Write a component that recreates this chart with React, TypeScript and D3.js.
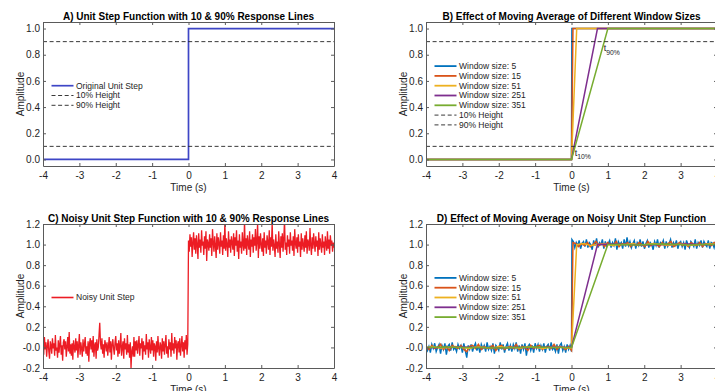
import { useEffect, useRef } from "react";
import * as d3 from "d3";

// axis ticks
const xTicks = [-4, -3, -2, -1, 0, 1, 2, 3, 4];
const xTickLabels = ["-4", "-3", "-2", "-1", "0", "1", "2", "3", "4"];
const yTicksTop = [0, 0.2, 0.4, 0.6, 0.8, 1.0];
const yTickLabelsTop = ["0.0", "0.2", "0.4", "0.6", "0.8", "1.0"];
const yTicksBottom = [-0.2, 0, 0.2, 0.4, 0.6, 0.8, 1.0, 1.2];
const yTickLabelsBottom = ["-0.2", "-0.0", "0.2", "0.4", "0.6", "0.8", "1.0", "1.2"];

// A) unit step
const stepTimes = [-4, 0, 0, 4];
const stepValues = [0, 0, 1, 1];
const responseLevels = [0.1, 0.9];
const responseLabels = ["10% Height", "90% Height"];

// B) moving averages of the clean step: flat, linear ramp from 0 to rampEnd, flat
const windowSizes = [5, 15, 51, 251, 351];
const rampEnds = [0.011, 0.04, 0.143, 0.714, 1.0];
const t10 = 0.1;
const t90 = 0.9;

// C) noisy step, samples every 0.02 s (low: -4 .. -0.02, high: 0 .. 4)
const noisyLow = [
  0.03, -0.07, 0.10, -0.02, 0.05, -0.09, 0.01, 0.08, -0.04, -0.11, 0.06, 0.02, -0.06, 0.09, -0.01, 0.04, -0.08, 0.12, -0.03, 0.00,
  -0.10, 0.07, -0.05, 0.03, 0.11, -0.07, 0.02, -0.13, 0.05, 0.08, -0.02, 0.06, -0.09, 0.01, 0.10, -0.04, 0.15, -0.06, 0.03, -0.08,
  0.04, -0.12, 0.07, 0.00, -0.05, 0.09, -0.03, 0.06, -0.10, 0.02, 0.13, -0.07, 0.05, -0.01, -0.09, 0.08, -0.04, 0.03, 0.10, -0.06,
  0.01, -0.08, 0.06, -0.14, 0.04, 0.09, -0.02, 0.07, -0.05, 0.11, -0.09, 0.02, 0.05, -0.11, 0.08, -0.03, 0.00, 0.12, 0.24, 0.04,
  -0.02, 0.09, -0.06, 0.03, -0.10, 0.07, 0.03, -0.04, 0.05, -0.08, 0.01, 0.10, -0.05, 0.06, -0.12, 0.03, 0.08, -0.01, -0.07, 0.05,
  0.11, -0.03, 0.04, -0.09, 0.07, -0.06, 0.02, 0.14, -0.08, 0.00, 0.06, -0.11, 0.09, -0.02, 0.04, -0.07, 0.12, -0.05, 0.03, -0.10,
  0.05, -0.20, -0.04, 0.01, -0.09, 0.10, -0.09, 0.06, -0.03, 0.07, -0.06, 0.02, 0.11, -0.08, 0.04, -0.01, 0.09, -0.12, 0.06, -0.04,
  0.02, -0.07, 0.13, -0.02, 0.05, -0.10, 0.08, 0.00, -0.06, 0.10, -0.03, 0.07, -0.09, 0.04, 0.01, -0.13, 0.06, -0.05, 0.11, -0.01,
  -0.08, 0.05, 0.02, -0.11, 0.09, -0.04, 0.06, -0.07, 0.03, 0.12, -0.06, 0.01, -0.10, 0.08, -0.02, 0.05, -0.09, 0.14, -0.03, 0.04,
  -0.06, 0.10, -0.01, 0.07, -0.12, 0.03, 0.06, -0.05, 0.09, -0.08, 0.02, 0.11, -0.04, 0.05, -0.10, 0.07, -0.02, 0.12, -0.07, 0.03,
];
const noisyHigh = [
  1.04, 0.93, 1.10, 0.98, 1.07, 0.88, 1.02, 1.12, 0.95, 1.06, 0.91, 1.09, 1.00, 0.86, 1.11, 0.97, 1.05, 0.92, 1.14, 0.99,
  1.03, 0.90, 1.08, 0.96, 1.13, 0.84, 1.05, 1.01, 0.94, 1.10, 0.97, 1.06, 0.89, 1.15, 1.02, 0.93, 1.08, 0.99, 0.87, 1.11,
  0.95, 1.07, 1.01, 0.91, 1.12, 0.98, 1.04, 0.90, 1.09, 0.96, 1.22, 0.94, 1.06, 1.00, 0.88, 1.13, 0.97, 1.05, 0.92, 1.08,
  1.02, 0.95, 1.11, 0.89, 1.07, 0.99, 1.14, 0.93, 1.04, 0.86, 1.10, 0.97, 1.03, 0.91, 1.12, 1.00, 0.94, 1.23, 0.96, 1.06,
  0.90, 1.09, 1.01, 0.95, 1.13, 0.88, 1.05, 0.98, 1.10, 0.92, 1.07, 0.99, 1.15, 0.94, 1.03, 1.21, 0.87, 1.08, 0.96, 1.11,
  1.00, 0.93, 1.06, 0.89, 1.12, 0.97, 1.04, 0.91, 1.09, 1.02, 0.95, 1.14, 0.90, 1.07, 0.98, 1.22, 0.94, 1.05, 0.99, 0.88,
  1.10, 0.96, 1.03, 0.92, 1.13, 1.00, 0.87, 1.08, 0.97, 1.11, 0.93, 1.06, 1.24, 0.95, 1.02, 0.90, 1.09, 0.98, 1.05, 0.91,
  1.12, 0.99, 1.04, 0.94, 1.08, 0.89, 1.15, 1.01, 0.96, 1.07, 0.92, 1.10, 0.98, 1.03, 0.88, 1.11, 0.95, 1.06, 1.00, 0.93,
  1.09, 0.97, 1.13, 0.91, 1.05, 1.02, 0.94, 1.16, 0.99, 0.90, 1.07, 0.96, 1.11, 1.01, 0.93, 1.08, 0.98, 1.04, 0.89, 1.12,
  0.95, 1.06, 1.00, 0.92, 1.10, 0.97, 1.03, 0.90, 1.08, 1.01, 0.94, 1.13, 0.96, 1.05, 0.91, 1.09, 0.99, 1.04, 0.93, 1.02, 0.97,
];

// D) moving averages of the noisy step (low part spans -4..0, high part spans rampEnd..4)
const ma5Low = [
  0.02, -0.03, 0.01, -0.05, 0.03, -0.01, 0.04, -0.04, 0.00, 0.03, -0.06, 0.02, -0.02, 0.04, -0.07, 0.01, 0.03, -0.03, 0.05, -0.02,
  0.00, -0.04, 0.03, -0.01, 0.02, -0.05, 0.04, -0.03, -0.10, 0.02, -0.02, 0.03, -0.04, 0.01, 0.04, -0.03, 0.02, -0.05, 0.03, -0.01,
  0.02, -0.04, 0.05, -0.02, 0.01, -0.03, 0.04, -0.06, 0.02, 0.00, -0.03, 0.05, -0.02, 0.03, -0.05, 0.01, 0.04, -0.03, 0.02, -0.04,
  0.03, -0.01, 0.05, -0.04, 0.02, -0.06, 0.03, -0.02, 0.04, -0.08, 0.01, 0.03, -0.03, 0.02, -0.05, 0.04, -0.01, 0.03, -0.04, 0.02,
  -0.02, 0.04, -0.05, 0.01, 0.03, -0.03, 0.05, -0.02, 0.00, -0.04, 0.03, -0.06, 0.02, 0.04, -0.03, 0.01, -0.05, 0.03, -0.02, 0.02, -0.04,
];
const ma5High = [
  1.05, 1.03, 0.97, 1.02, 0.99, 1.04, 0.96, 1.01, 1.03, 0.98, 1.05, 0.97, 1.02, 1.00, 0.95, 1.04, 0.99, 1.06, 0.97, 1.02,
  1.00, 1.05, 0.96, 1.03, 0.98, 1.01, 1.04, 0.97, 1.02, 0.99, 1.06, 0.95, 1.03, 1.00, 1.02, 0.96, 1.05, 0.98, 1.07, 0.99,
  1.03, 0.97, 1.01, 1.04, 0.96, 1.02, 0.99, 1.05, 0.98, 1.03, 0.96, 1.01, 1.04, 0.97, 1.02, 1.00, 0.95, 1.03, 0.99, 1.05,
  0.97, 1.02, 1.00, 1.04, 0.96, 1.03, 0.98, 1.01, 1.05, 0.97, 1.02, 0.99, 1.04, 0.96, 1.01, 1.03, 0.98, 1.02, 0.95, 1.04,
  1.00, 0.97, 1.03, 1.01, 0.98, 1.05, 0.96, 1.02, 0.99, 1.04, 0.97, 1.03, 1.00, 0.98, 1.04, 0.96, 1.02, 1.01, 0.97, 1.03, 0.99,
];
const ma15Low = [
  0.01, -0.02, 0.02, -0.01, 0.00, 0.03, -0.02, 0.01, -0.03, 0.02, 0.00, -0.01, 0.02, -0.02, -0.04, 0.01, 0.02, -0.01, 0.03, -0.02,
  0.01, -0.01, 0.00, 0.02, -0.03, 0.01, 0.02, -0.02, 0.00, 0.01, -0.01, 0.03, -0.02, 0.01, 0.00, -0.03, 0.02, -0.01, 0.01, 0.02,
  -0.02, 0.00, 0.01, -0.01, 0.03, -0.02, 0.01, 0.00, -0.02, 0.01, -0.03,
];
const ma15High = [
  1.02, 1.01, 0.98, 1.01, 0.99, 1.02, 0.98, 1.00, 1.03, 0.99, 1.01, 0.98, 1.02, 1.00, 0.99, 1.03, 0.98, 1.01, 1.00, 1.02,
  0.98, 1.01, 0.99, 1.02, 1.00, 0.98, 1.03, 0.99, 1.01, 1.00, 0.98, 1.02, 0.99, 1.01, 1.03, 0.98, 1.00, 1.02, 0.99, 1.01,
  0.98, 1.02, 1.00, 0.99, 1.02, 0.98, 1.01, 1.00, 0.99, 1.02, 1.00,
];
const ma51Low = [
  0.00, 0.01, -0.01, 0.00, 0.01, 0.00, -0.01, 0.01, 0.00, -0.01, 0.01, 0.00, 0.00, -0.01, 0.01, 0.00, -0.01, 0.00, 0.01, 0.00, -0.01,
];
const ma51High = [
  1.00, 1.01, 0.99, 1.00, 1.01, 0.99, 1.00, 1.00, 1.01, 0.99, 1.00, 1.01, 1.00, 0.99, 1.00, 1.01, 0.99, 1.00, 1.00, 1.01, 1.00,
];
const ma251Low = [0.0, 0.0, 0.005, 0.0, -0.005, 0.0, 0.0, 0.005, 0.0];
const ma251High = [1.0, 1.005, 1.0, 0.995, 1.0, 1.0, 1.005, 1.0, 1.0];
const ma351Low = [0.0, 0.005, 0.0, 0.0, -0.005, 0.0, 0.005, 0.0, 0.0];
const ma351High = [1.0, 1.0, 0.995, 1.0, 1.005, 1.0, 0.995, 1.0, 1.0];

const noisyMaLow = [ma5Low, ma15Low, ma51Low, ma251Low, ma351Low];
const noisyMaHigh = [ma5High, ma15High, ma51High, ma251High, ma351High];

const windowColors = ["#0072BD", "#D95319", "#EDB120", "#7E2F8E", "#77AC30"];
const stepColor = "#3E46C6";
const noisyColor = "#EC1C24";
const axisColor = "#5a5a5a";
const textColor = "#1e1e1e";
const font = "'Liberation Sans', Arial, Helvetica, sans-serif";

type Box = { left: number; right: number; top: number; bottom: number };
type Pt = [number, number];

export default function App() {
  const svgRef = useRef<SVGSVGElement>(null);

  useEffect(() => {
    if (!svgRef.current) return;
    const svg = d3.select(svgRef.current);
    svg.selectAll("*").remove();

    const lineGen = (x: d3.ScaleLinear<number, number>, y: d3.ScaleLinear<number, number>) =>
      d3
        .line<Pt>()
        .x((d) => x(d[0]))
        .y((d) => y(d[1]));

    function panel(
      id: string,
      box: Box,
      yDomain: [number, number],
      yTicks: number[],
      yLabels: string[],
      title: string,
      draw: (plot: any, x: d3.ScaleLinear<number, number>, y: d3.ScaleLinear<number, number>) => void,
    ) {
      const x = d3.scaleLinear().domain([-4, 4]).range([box.left, box.right]);
      const y = d3.scaleLinear().domain(yDomain).range([box.bottom, box.top]);

      svg
        .append("clipPath")
        .attr("id", id)
        .append("rect")
        .attr("x", box.left)
        .attr("y", box.top)
        .attr("width", box.right - box.left)
        .attr("height", box.bottom - box.top);
      const plot = svg.append("g").attr("clip-path", `url(#${id})`);
      draw(plot, x, y);

      const style = (g: any) => {
        g.select(".domain").attr("stroke", axisColor);
        g.selectAll(".tick line").attr("stroke", axisColor);
        g.selectAll(".tick text")
          .attr("fill", textColor)
          .attr("font-size", 10)
          .attr("font-family", font);
      };

      svg
        .append("g")
        .attr("transform", `translate(0,${box.bottom})`)
        .call(
          d3
            .axisBottom(x)
            .tickValues(xTicks)
            .tickFormat((_, i) => xTickLabels[i])
            .tickSizeInner(-3)
            .tickSizeOuter(0)
            .tickPadding(5.5),
        )
        .call(style);
      svg
        .append("g")
        .attr("transform", `translate(0,${box.top})`)
        .call(d3.axisTop(x).tickValues(xTicks).tickFormat(() => "").tickSizeInner(-3).tickSizeOuter(0))
        .call(style);
      svg
        .append("g")
        .attr("transform", `translate(${box.left},0)`)
        .call(
          d3
            .axisLeft(y)
            .tickValues(yTicks)
            .tickFormat((_, i) => yLabels[i])
            .tickSizeInner(-3)
            .tickSizeOuter(0)
            .tickPadding(3),
        )
        .call(style);
      svg
        .append("g")
        .attr("transform", `translate(${box.right},0)`)
        .call(d3.axisRight(y).tickValues(yTicks).tickFormat(() => "").tickSizeInner(-3).tickSizeOuter(0))
        .call(style);

      const cx = (box.left + box.right) / 2;
      const cy = (box.top + box.bottom) / 2;
      svg
        .append("text")
        .attr("x", cx)
        .attr("y", box.top - 1.6)
        .attr("text-anchor", "middle")
        .attr("font-weight", "bold")
        .attr("font-size", 10)
        .attr("fill", "#000")
        .text(title);
      svg
        .append("text")
        .attr("x", cx)
        .attr("y", box.bottom + 24.5)
        .attr("text-anchor", "middle")
        .attr("font-size", 10)
        .attr("fill", textColor)
        .text("Time (s)");
      svg
        .append("text")
        .attr("transform", `translate(${box.left - 19.5},${cy}) rotate(-90)`)
        .attr("text-anchor", "middle")
        .attr("font-size", 10)
        .attr("fill", textColor)
        .text("Amplitude");
      return { x, y };
    }

    type Item = { label: string; color: string; width: number; dash?: string };
    function legend(box: Box, items: Item[]) {
      const mid = (box.top + box.bottom) / 2 + 1.5;
      items.forEach((it, i) => {
        const yy = mid + (i - (items.length - 1) / 2) * 9.8;
        svg
          .append("line")
          .attr("x1", box.left + 8.5)
          .attr("x2", box.left + 30.5)
          .attr("y1", yy)
          .attr("y2", yy)
          .attr("stroke", it.color)
          .attr("stroke-width", it.width)
          .attr("stroke-dasharray", it.dash ?? null);
        svg
          .append("text")
          .attr("x", box.left + 33)
          .attr("y", yy)
          .attr("dy", "0.35em")
          .attr("font-size", 8.5)
          .attr("fill", textColor)
          .text(it.label);
      });
    }

    const dash = "4,2.6";
    const boxA: Box = { left: 43, right: 334, top: 22, bottom: 166 };
    const boxB: Box = { left: 426, right: 717, top: 22, bottom: 166 };
    const boxC: Box = { left: 43, right: 334, top: 224, bottom: 368 };
    const boxD: Box = { left: 426, right: 717, top: 224, bottom: 368 };

    const drawLevels = (plot: any, x: any, y: any) => {
      responseLevels.forEach((lv) => {
        plot
          .append("line")
          .attr("x1", x(-4))
          .attr("x2", x(4))
          .attr("y1", y(lv))
          .attr("y2", y(lv))
          .attr("stroke", "#222")
          .attr("stroke-width", 0.9)
          .attr("stroke-dasharray", dash);
      });
    };

    // A
    panel("clipA", boxA, [-0.05, 1.05], yTicksTop, yTickLabelsTop, "A) Unit Step Function with 10 & 90% Response Lines", (plot, x, y) => {
      const pts: Pt[] = stepTimes.map((t, i) => [t, stepValues[i]]);
      plot
        .append("path")
        .datum(pts)
        .attr("d", lineGen(x, y))
        .attr("fill", "none")
        .attr("stroke", stepColor)
        .attr("stroke-width", 1.7);
      drawLevels(plot, x, y);
    });
    legend(boxA, [
      { label: "Original Unit Step", color: stepColor, width: 1.7 },
      { label: responseLabels[0], color: "#222", width: 0.9, dash },
      { label: responseLabels[1], color: "#222", width: 0.9, dash },
    ]);

    // B
    const b = panel("clipB", boxB, [-0.05, 1.05], yTicksTop, yTickLabelsTop, "B) Effect of Moving Average of Different Window Sizes", (plot, x, y) => {
      rampEnds.forEach((re, k) => {
        const pts: Pt[] = [
          [-4, stepValues[0]],
          [0, stepValues[1]],
          [re, stepValues[2]],
          [4, stepValues[3]],
        ];
        plot
          .append("path")
          .datum(pts)
          .attr("d", lineGen(x, y))
          .attr("fill", "none")
          .attr("stroke", windowColors[k])
          .attr("stroke-width", 1.5);
      });
      drawLevels(plot, x, y);
    });
    legend(boxB, [
      ...windowSizes.map((w, k) => ({ label: `Window size: ${w}`, color: windowColors[k], width: 1.8 })),
      { label: responseLabels[0], color: "#222", width: 0.9, dash },
      { label: responseLabels[1], color: "#222", width: 0.9, dash },
    ]);
    [
      { t: t10, lv: responseLevels[0], sub: "10%" },
      { t: t90, lv: responseLevels[1], sub: "90%" },
    ].forEach((a) => {
      const txt = svg
        .append("text")
        .attr("x", b.x(a.t) - 0.5)
        .attr("y", b.y(a.lv) + 9.5)
        .attr("font-size", 9)
        .attr("fill", textColor);
      txt.append("tspan").text("t");
      txt.append("tspan").attr("dy", 3.5).attr("font-size", 6.8).text(a.sub);
    });

    // C
    panel("clipC", boxC, [-0.2, 1.2], yTicksBottom, yTickLabelsBottom, "C) Noisy Unit Step Function with 10 & 90% Response Lines", (plot, x, y) => {
      const pts: Pt[] = [
        ...noisyLow.map((v, i) => [-4 + (4 * i) / noisyLow.length, v] as Pt),
        ...noisyHigh.map((v, i) => [(4 * i) / (noisyHigh.length - 1), v] as Pt),
      ];
      plot
        .append("path")
        .datum(pts)
        .attr("d", lineGen(x, y))
        .attr("fill", "none")
        .attr("stroke", noisyColor)
        .attr("stroke-width", 1.3);
    });
    legend(boxC, [{ label: "Noisy Unit Step", color: noisyColor, width: 1.6 }]);

    // D
    panel("clipD", boxD, [-0.2, 1.2], yTicksBottom, yTickLabelsBottom, "D) Effect of Moving Average on Noisy Unit Step Function", (plot, x, y) => {
      rampEnds.forEach((re, k) => {
        const lo = noisyMaLow[k];
        const hi = noisyMaHigh[k];
        const pts: Pt[] = [
          ...lo.map((v, i) => [-4 + (4 * i) / (lo.length - 1), v] as Pt),
          ...hi.map((v, i) => [re + ((4 - re) * i) / (hi.length - 1), v] as Pt),
        ];
        plot
          .append("path")
          .datum(pts)
          .attr("d", lineGen(x, y))
          .attr("fill", "none")
          .attr("stroke", windowColors[k])
          .attr("stroke-width", k === 0 ? 1.4 : 1.5);
      });
    });
    legend(
      boxD,
      windowSizes.map((w, k) => ({ label: `Window size: ${w}`, color: windowColors[k], width: 1.8 })),
    );
  }, []);

  return (
    <svg
      ref={svgRef}
      width={715}
      height={391}
      fontFamily={font}
      style={{ position: "absolute", left: 0, top: 0, background: "#fff" }}
      role="img"
      aria-label="Unit step and moving average response charts"
    />
  );
}
